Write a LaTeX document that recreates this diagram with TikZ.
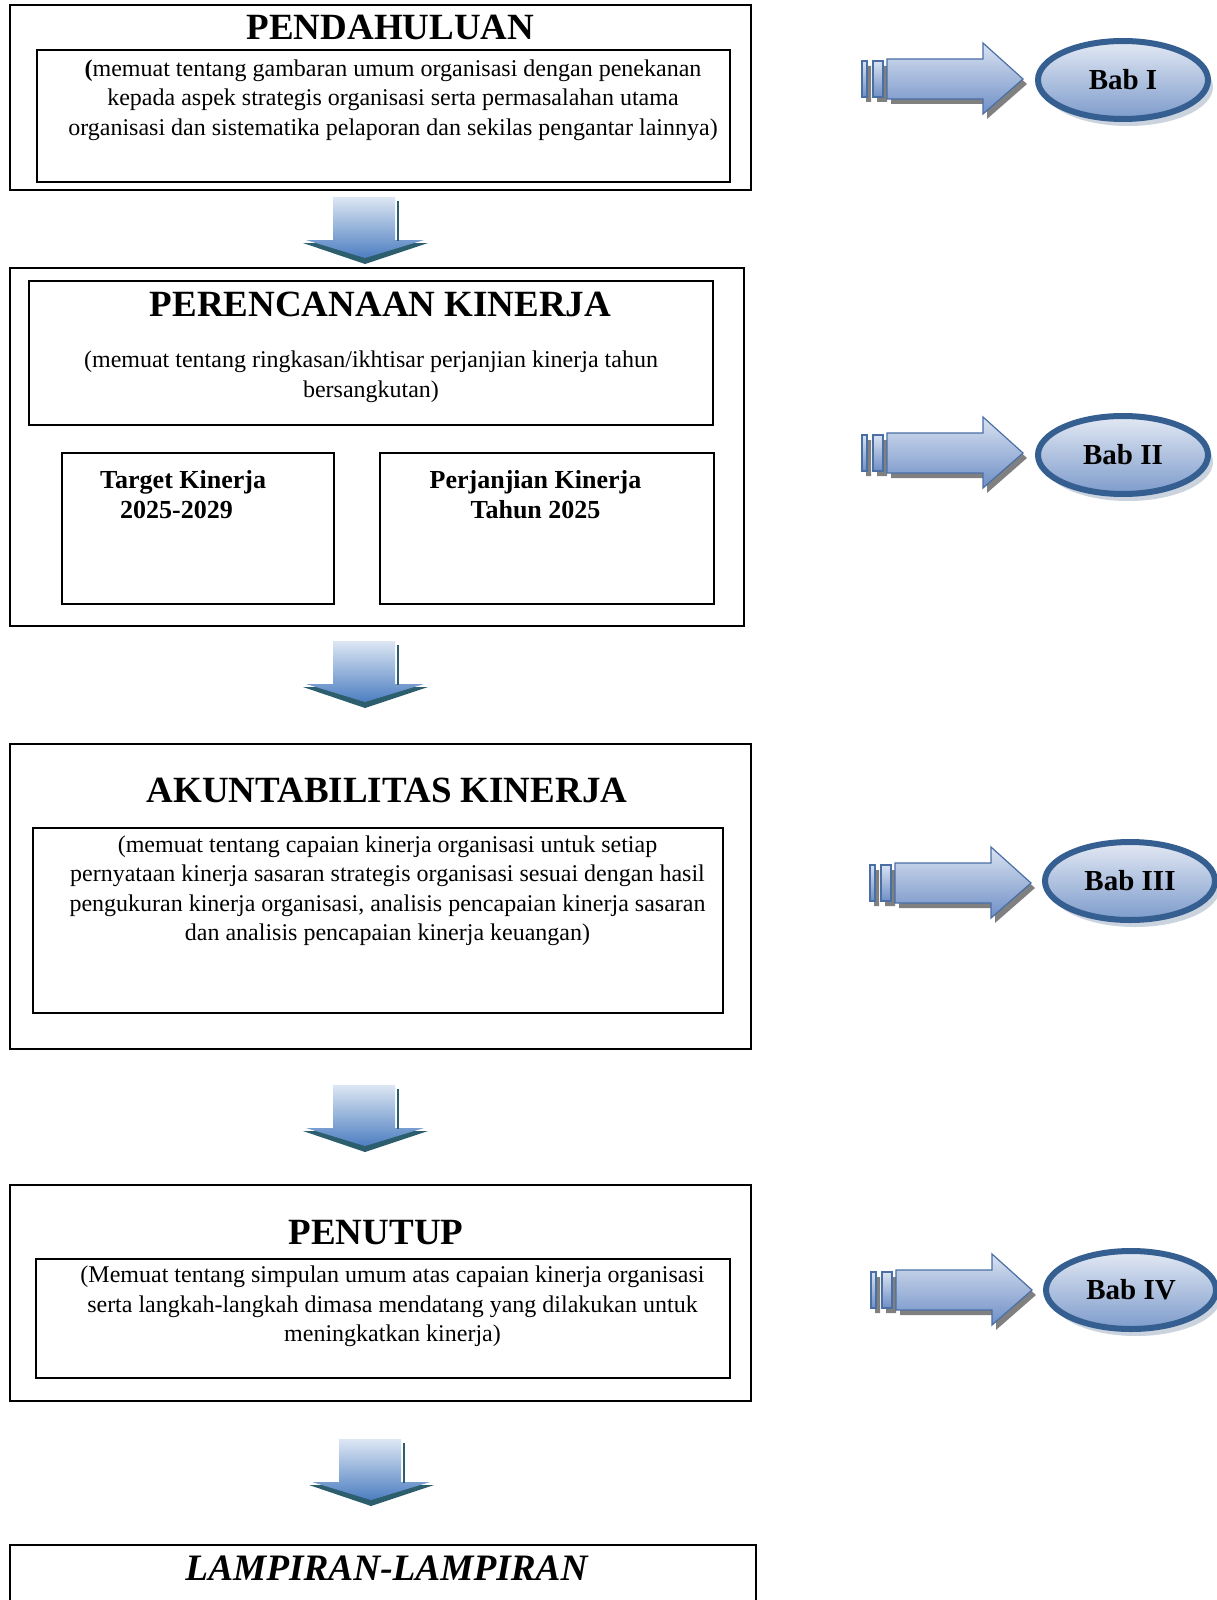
\documentclass[tikz,border=0pt]{standalone}
\usepackage{fontspec}
\setmainfont{Liberation Serif}
\usetikzlibrary{shapes.geometric,shadows}
\definecolor{babblue}{HTML}{365F91}
\definecolor{babtop}{HTML}{E3E9F4}
\definecolor{babbottom}{HTML}{7D9BCB}
\definecolor{babshadow}{HTML}{CBD3DE}
\definecolor{arrowline}{HTML}{4A6FA5}
\definecolor{arrowtop}{HTML}{D9E2F1}
\definecolor{arrowbottom}{HTML}{6F8FC6}
\definecolor{downtop}{HTML}{DDE7F3}
\definecolor{downbottom}{HTML}{4D7EC1}
\definecolor{rimteal}{HTML}{2C5E6E}

\begin{document}
\begin{tikzpicture}[x=1pt,y=-1pt,
    box/.style={draw=black,line width=1.3pt},
    title/.style={font=\fontsize{37}{40}\selectfont\bfseries,anchor=base,inner sep=0pt},
    body/.style={font=\fontsize{24}{29.6}\selectfont,align=center,anchor=base,inner sep=0pt},
    subtitle/.style={font=\fontsize{26}{30.5}\selectfont\bfseries,anchor=base,inner sep=0pt},
    babellipse/.style={ellipse,draw=babblue,line width=6pt,inner sep=0pt,
        minimum width=170pt,minimum height=78pt,top color=babtop,bottom color=babbottom,
        font=\fontsize{29}{30}\selectfont\bfseries,
        drop shadow={shadow xshift=5pt,shadow yshift=-7pt,fill=babshadow,opacity=1}},
    sidebody/.style={draw=arrowline,line width=1.2pt,top color=arrowtop,bottom color=arrowbottom},
    arrowshadow/.style={fill=black!50},
    downbody/.style={top color=downtop,bottom color=downbottom},
    sidearrow/.pic={
        \begin{scope}[shift={(4,5)}]
            \fill[arrowshadow] (0,-18) rectangle (5,18) (11,-18) rectangle (21,18)
                (25,-20) -- (121,-20) -- (121,-36) -- (161,0) -- (121,35) -- (121,20) -- (25,20) -- cycle;
        \end{scope}
        \path[sidebody] (0,-18) rectangle (5,18);
        \path[sidebody] (11,-18) rectangle (21,18);
        \path[sidebody] (25,-20) -- (121,-20) -- (121,-36) -- (161,0) -- (121,35) -- (121,20) -- (25,20) -- cycle;
    },
    downarrow/.pic={
        \fill[rimteal] (-61,46) -- (64,46) -- (1,67) -- cycle;
        \path[downbody] (-31,0) -- (31,0) -- (31,43) -- (60,43) -- (1,61) -- (-58,43) -- (-31,43) -- cycle;
        \draw[rimteal,line width=1.6pt] (34,4) -- (34,44);
    }]
    \useasboundingbox (0,0) rectangle (1217,1600);

    % Bab I
    \draw[box] (10,5) rectangle (751,190);
    \draw[box] (37,50) rectangle (730,182);
    \node[title] (pend) at (390.5,40) {PENDAHULUAN};
    \node[body] (pendtext) at (393,135.2) {{\bfseries(}memuat tentang gambaran umum organisasi dengan penekanan\\
        kepada aspek strategis organisasi serta permasalahan utama\\
        organisasi dan sistematika pelaporan dan sekilas pengantar lainnya)};
    \pic at (364,197) {downarrow};

    % Bab II
    \draw[box] (10,268) rectangle (744,626);
    \draw[box] (29,281) rectangle (713,425);
    \node[title] (peren) at (380.5,316) {PERENCANAAN KINERJA};
    \node[body] (perentext) at (371,397.1) {(memuat tentang ringkasan/ikhtisar perjanjian kinerja tahun\\
        bersangkutan)};
    \draw[box] (62,453) rectangle (334,604);
    \draw[box] (380,453) rectangle (714,604);
    \node[subtitle,anchor=base west,align=left] (target) at (100,518.5) {Target Kinerja\\\hspace*{20pt}2025-2029};
    \node[subtitle,align=center] (janji) at (535.5,518.5) {Perjanjian Kinerja\\Tahun 2025};
    \pic at (364,641) {downarrow};

    % Bab III
    \draw[box] (10,744) rectangle (751,1049);
    \draw[box] (33,828) rectangle (723,1013);
    \node[title] (akun) at (387,802.5) {AKUNTABILITAS KINERJA};
    \node[body] (akuntext) at (387.5,940.8) {(memuat tentang capaian kinerja organisasi untuk setiap\\
        pernyataan kinerja sasaran strategis organisasi sesuai dengan hasil\\
        pengukuran kinerja organisasi, analisis pencapaian kinerja sasaran\\
        dan analisis pencapaian kinerja keuangan)};
    \pic at (364,1085) {downarrow};

    % Bab IV
    \draw[box] (10,1185) rectangle (751,1401);
    \draw[box] (36,1259) rectangle (730,1378);
    \node[title] (tutup) at (376,1244) {PENUTUP};
    \node[body] (tutuptext) at (392.5,1341.7) {(Memuat tentang simpulan umum atas capaian kinerja organisasi\\
        serta langkah-langkah dimasa mendatang yang dilakukan untuk\\
        meningkatkan kinerja)};
    \pic at (370,1439) {downarrow};

    % Lampiran
    \draw[box] (10,1605) |- (756,1545) -- (756,1605);
    \node[title,font=\fontsize{37.3}{40}\selectfont\bfseries\itshape] (lampiran) at (386.5,1580) {LAMPIRAN-LAMPIRAN};

    % side labels
    \pic at (862,79) {sidearrow};
    \node[babellipse] (bab1) at (1123,80) {Bab I};
    \pic at (862,453) {sidearrow};
    \node[babellipse] (bab2) at (1123,455) {Bab II};
    \pic at (870,883) {sidearrow};
    \node[babellipse] (bab3) at (1130,881) {Bab III};
    \pic at (871,1290) {sidearrow};
    \node[babellipse] (bab4) at (1131,1290) {Bab IV};
\end{tikzpicture}
\end{document}
